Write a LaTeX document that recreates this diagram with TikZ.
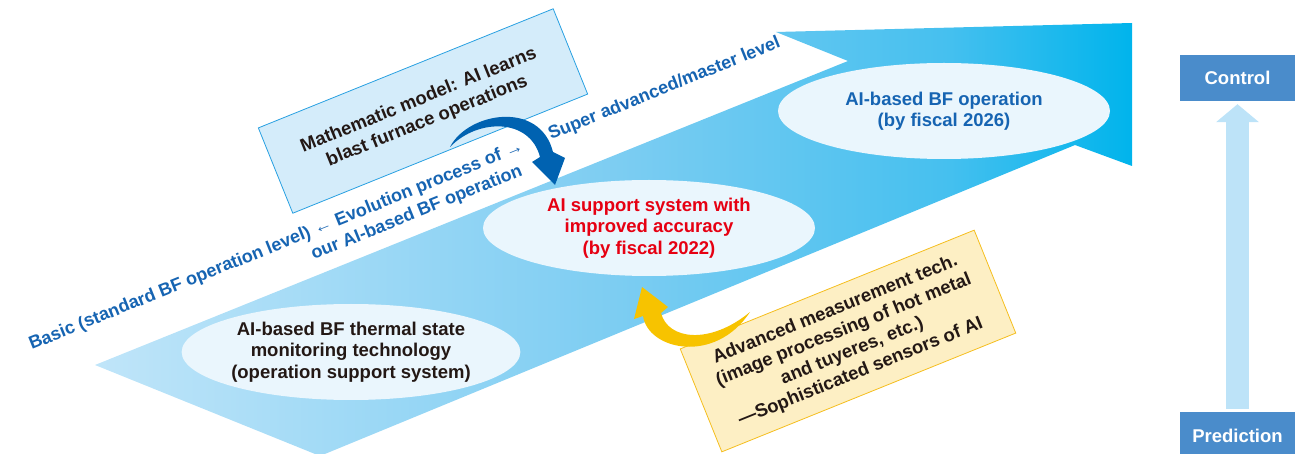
\documentclass[tikz,border=0pt]{standalone}
\usepackage{fontspec}
\setmainfont{Liberation Sans}
\usetikzlibrary{shapes.geometric,arrows.meta,calc}

\definecolor{bandpale}{RGB}{192,229,249}
\definecolor{bandmid}{RGB}{125,205,242}
\definecolor{bandlate}{RGB}{70,192,239}
\definecolor{banddeep}{RGB}{0,180,236}
\definecolor{ovalfill}{RGB}{234,246,253}
\definecolor{textblue}{RGB}{22,100,178}
\definecolor{textdark}{RGB}{35,24,21}
\definecolor{textred}{RGB}{230,0,18}
\definecolor{modelfill}{RGB}{212,236,250}
\definecolor{modelline}{RGB}{40,160,225}
\definecolor{sensorfill}{RGB}{253,239,196}
\definecolor{sensorline}{RGB}{245,190,30}
\definecolor{arrowblue}{RGB}{0,98,177}
\definecolor{arrowyellow}{RGB}{247,195,0}
\definecolor{levelfill}{RGB}{74,140,203}
\definecolor{levelarrow}{RGB}{189,227,248}

% colour ramp along the evolution band (stops 25bp..75bp span the path)
\pgfdeclarehorizontalshading{bandshade}{100bp}{%
  color(0bp)=(bandpale); color(25bp)=(bandpale); color(50bp)=(bandmid);
  color(66bp)=(bandlate); color(75bp)=(banddeep); color(100bp)=(banddeep)}

\tikzset{
  oval/.style={ellipse, fill=ovalfill, minimum width=332pt, minimum height=96pt,
    inner sep=0pt, align=center, font=\bfseries\fontsize{18.5}{21.5}\selectfont},
  tiltbox/.style={rotate=22, align=center, inner sep=0pt, line width=0.8pt,
    text=textdark, font=\bfseries\fontsize{18.5}{22.5}\selectfont},
  leveltext/.style={rotate=22, anchor=base west, inner sep=0pt, text=textblue,
    font=\bfseries\fontsize{18}{21}\selectfont},
  levelbox/.style={fill=levelfill, text=white, minimum width=115pt,
    font=\bfseries\fontsize{18.5}{21}\selectfont},
}

\begin{document}
\begin{tikzpicture}[x=1pt, y=-1pt]
\useasboundingbox (0,0) rectangle (1310,454);

% evolution band ending in a broad arrowhead
\shade[shading=bandshade] (95,365) -- (848,61) -- (776,32) -- (1132,23)
  -- (1132,166) -- (1075,145) -- (320,456) -- cycle;

% stages along the band
\node[oval, text=textdark] (monitor) at (351,352)
  {AI-based BF thermal state\\monitoring technology\\(operation support system)};
\node[oval, text=textred] (support) at (649,228)
  {AI support system with\\improved accuracy\\(by fiscal 2022)};
\node[oval, text=textblue] (auto) at (944,111)
  {AI-based BF operation\\(by fiscal 2026)};

% inputs feeding the middle stage
\node[tiltbox, draw=modelline, fill=modelfill, minimum width=318pt, minimum height=92pt]
  (model) at (423,111) {Mathematic model: AI learns\\blast furnace operations};
\node[tiltbox, draw=sensorline, fill=sensorfill, minimum width=317pt, minimum height=111pt]
  (sensor) at (848,341) {Advanced measurement tech.\\(image processing of hot metal\\and tuyeres, etc.)\\—Sophisticated sensors of AI};

% level labels above the band
\node[leveltext] (basic) at (31.6,350)
  {Basic (standard BF operation level) {\mdseries ←} Evolution process of {\mdseries →}};
\node[leveltext] (ours) at (313.6,260) {our AI-based BF operation};
\node[leveltext] (master) at (551,140) {Super advanced/master level};

% curved block arrow: model -> support
\fill[arrowblue] (450,147) .. controls (468,112) and (540,100) .. (553,152)
  -- (565,158) -- (555,185) -- (532,162) -- (540,157)
  .. controls (530,118) and (478,118) .. (450,147) -- cycle;

% curved block arrow: sensors -> support
\fill[arrowyellow] (750,312) .. controls (710,345) and (668,340) .. (661,313)
  -- (668,307) -- (642,287) -- (634,319) -- (643,316)
  .. controls (648,350) and (715,365) .. (750,312) -- cycle;

% prediction -> control scale
\node[levelbox, minimum height=46pt] (ctrl) at (1237.5,78) {Control};
\node[levelbox, minimum height=48pt] (pred) at (1237.5,436) {Prediction};
\draw[levelarrow, line width=23pt, -{Triangle[width=42pt,length=18pt]},
  shorten <=3pt, shorten >=3pt] (pred.north) -- (ctrl.south);
\end{tikzpicture}
\end{document}
